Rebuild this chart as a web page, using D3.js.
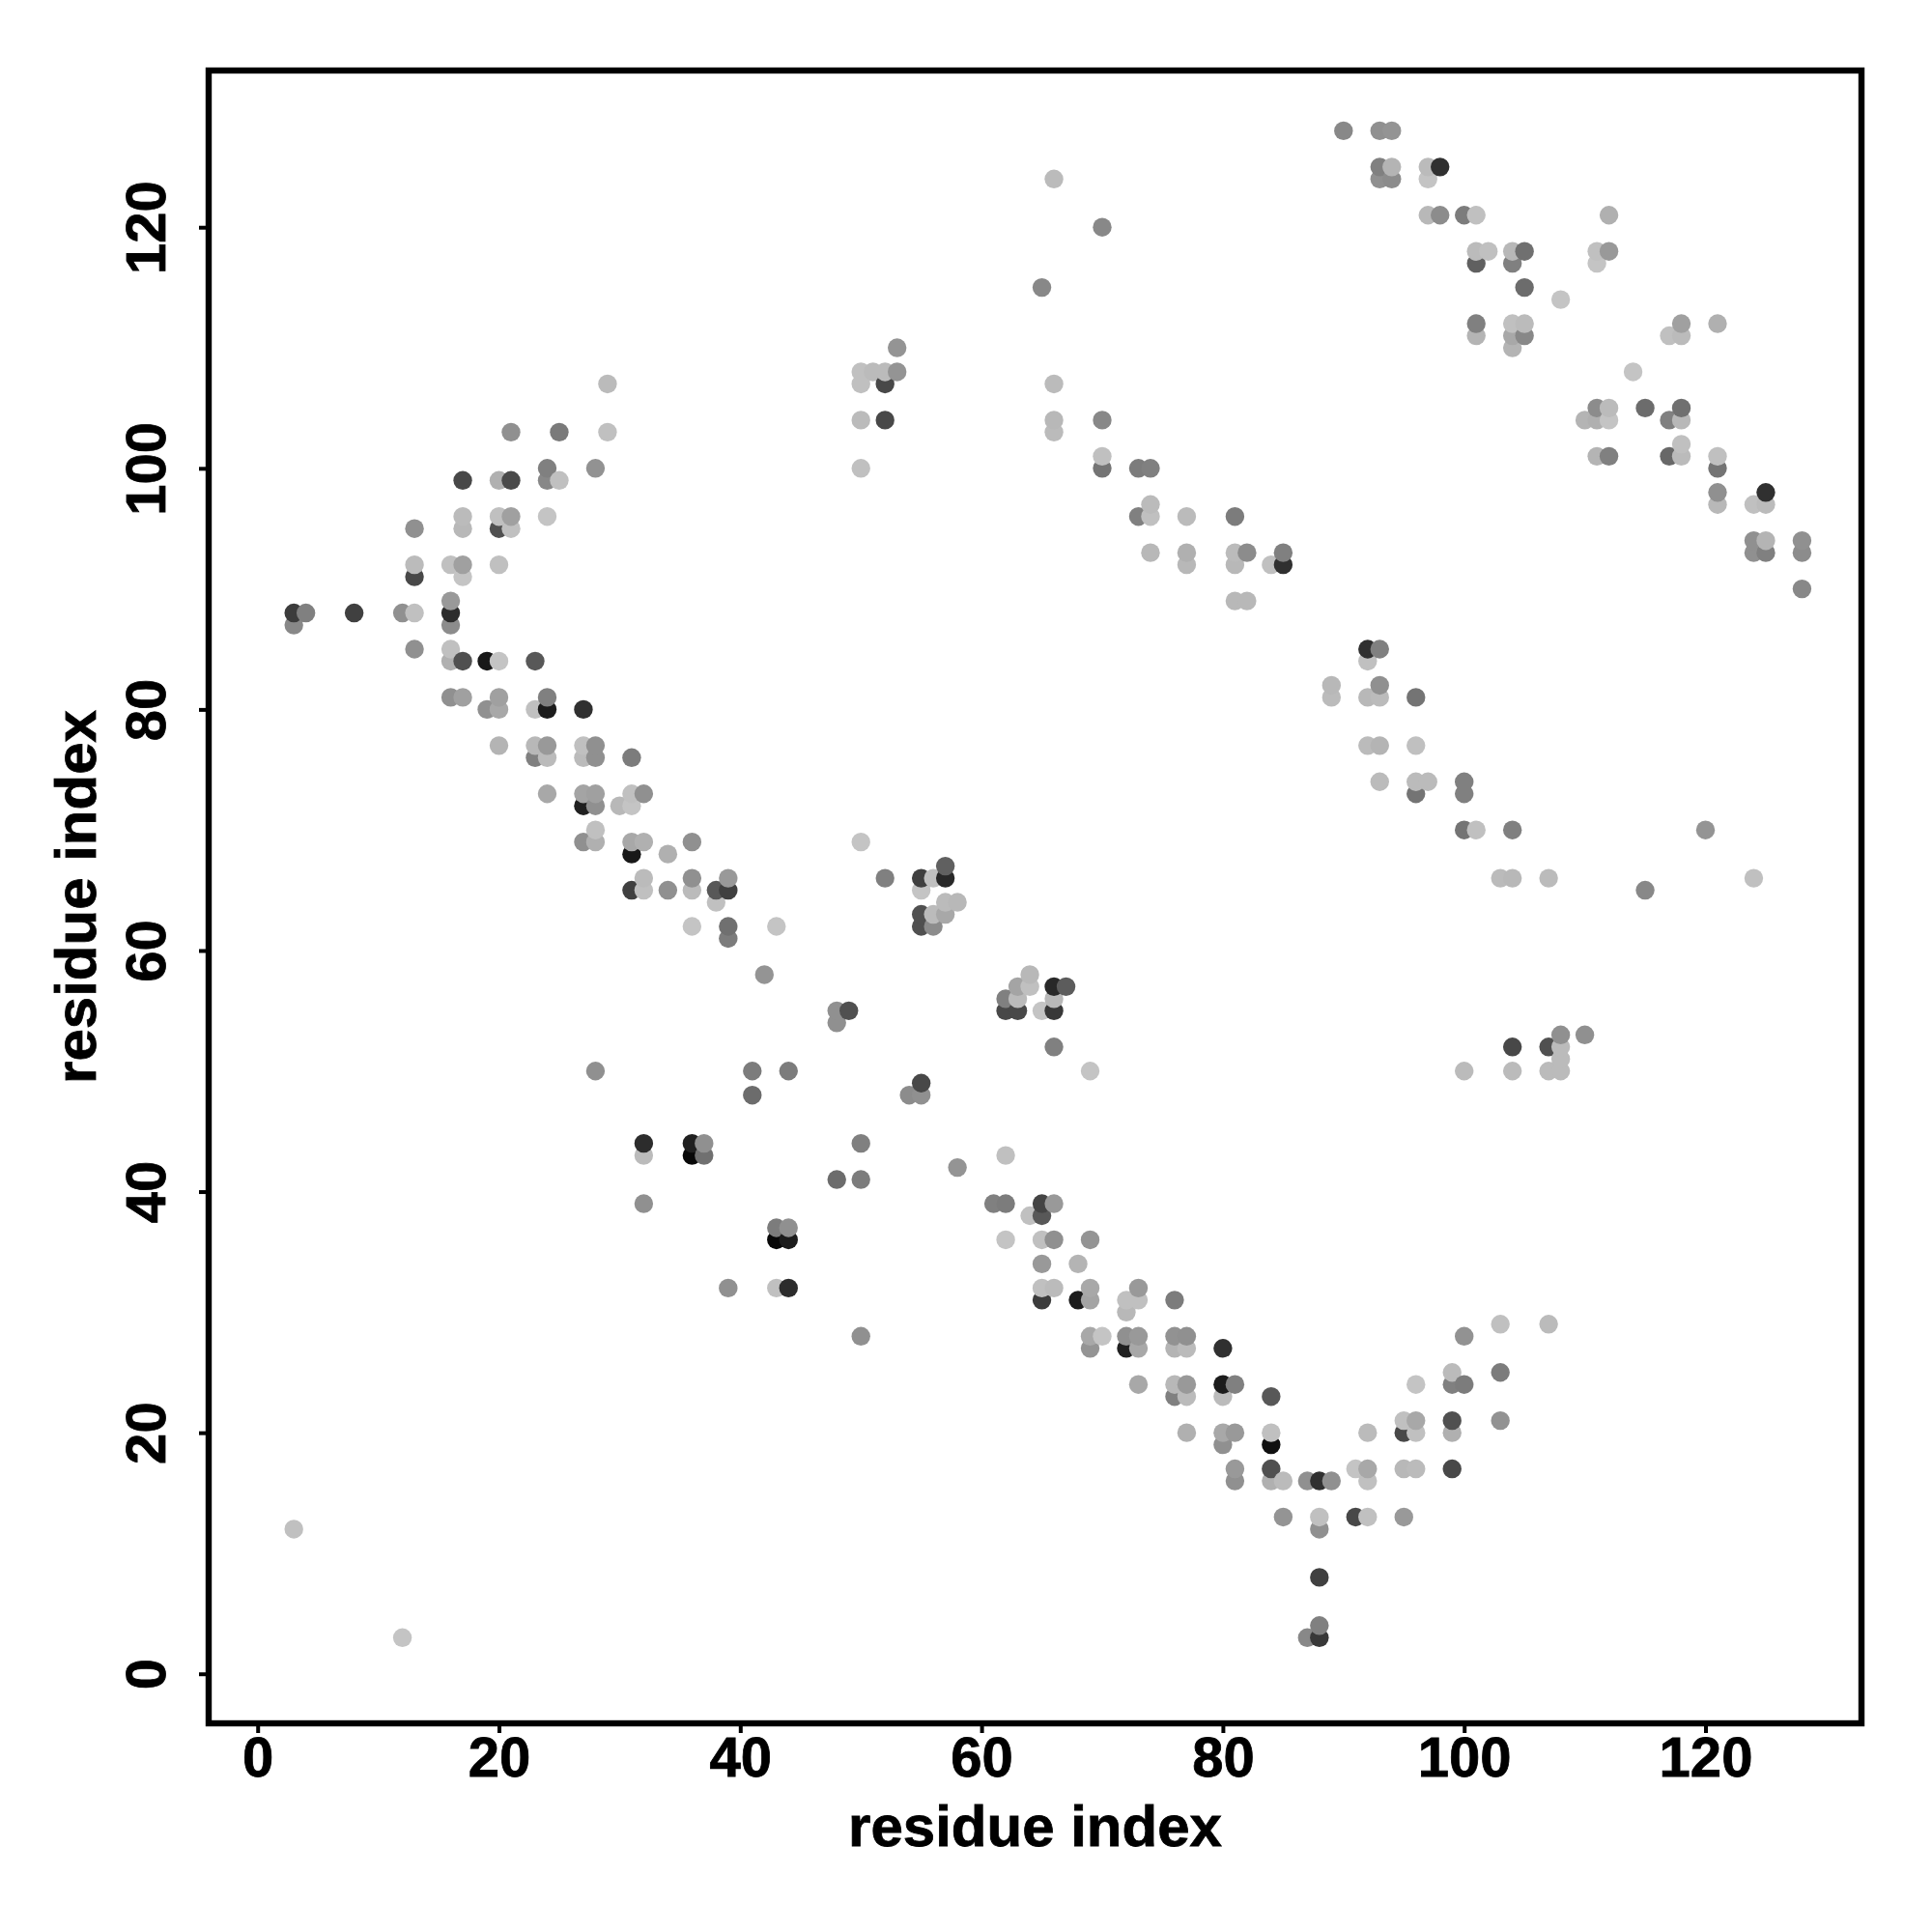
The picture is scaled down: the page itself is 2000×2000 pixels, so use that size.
<!DOCTYPE html>
<html>
<head>
<meta charset="utf-8">
<script src="https://cdn.jsdelivr.net/npm/d3@7"></script>
<style>html,body{margin:0;padding:0;background:#fff}svg{display:block}</style>
</head>
<body>
<script>
const axisTitleX = "residue index";
const axisTitleY = "residue index";
const tickValuesX = [0, 20, 40, 60, 80, 100, 120];
const tickValuesY = [0, 20, 40, 60, 80, 100, 120];

const residueJ = [
128,128,128, 125,125,125,125, 124,124,124,124, 121,121,121,121,121, 120,
118,118,118,118,118,118, 117,117,117, 115,115, 114,
112,112,112,112,112, 111,111,111,111,111, 110,110,
108,108,108,108,108, 107,107,107,107, 105,105,105,105,
104,104,104,104,104,104,104,104,104, 103,103,103,103, 102,
101,101,101,101,101,101, 100,100,100,100,100,100,100,
99,99,99,99,99, 98,98, 97,97,97,97,
96,96,96,96,96,96,96,96, 95,95,95,95, 94,94,94,
93,93,93,93,93,93,93,93, 92,92,92,92,92,92,92,92, 91,91, 90,
89,89,89, 88,88,88,88,88,88, 87,87, 85,85,85,85, 84,84,84,84,84,84,
82,82, 81,81,81,81,81,81,81,81, 80,80,80,80,80,
77,77,77,77,77,77,77,77, 76,76,76,76,76, 74,74,74,74,
73,73,73,73,73,73,73, 72,72,72,72, 70,70,70,70,70,
69,69,69,69,69,69, 68,68, 67,
66,66,66,66,66,66,66,66,66,66,66, 65,65,65,65,65,65,65,65,
64,64,64, 63,63,63, 62,62,62,62,62, 61,
58,58, 57,57,57,57, 56,56,56, 55,55,55,55,55,55, 54,
53,53, 52,52,52,52, 51, 50,50,50,50,50,50,50,50, 49, 48,48,48,
44,44,44,44, 43,43,43,43, 42, 41,41, 39,39,39,39,39, 38,38, 37,37,
36,36,36,36,36,36, 34,34, 32,32,32,32,32,32,32, 31,31,31,31,31,31, 30, 29,29,
28,28,28,28,28,28,28,28, 27,27,27,27,27,27, 25,25,
24,24,24,24,24,24,24,24, 23,23,23,23, 21,21,21,21,
20,20,20,20,20,20,20,20, 19,19, 17,17,17,17,17,17,17,
16,16,16,16,16,16,16, 13,13,13,13,13, 12,12, 8, 4, 3,3,3
];
const residueI = [
90,93,94, 93,94,97,98, 66,93,94,97, 97,98,100,101,112, 70,
101,102,104,105,111,112, 101,104,111, 65,105, 108,
101,104,105,118,121, 101,104,105,117,118, 53,104,
50,51,52,53,114, 29,50,52,66, 111,112,115,118,
50,52,66,70,110,111,112,117,118, 21,25,29,66, 118,
70,111,112,117,118,121, 24,28,50,70,73,74,121,
17,20,21,24,25, 121,125, 74,121,124,125,
17,20,21,24,73,74,77,81, 13,17,20,21, 124,125,128,
74,77,81,82,85,124,125,128, 13,16,17,20,77,81,84,85, 13,17, 128,
16,81,82, 3,4,8,12,13,16, 3,16, 13,16,92,93, 16,17,19,20,23,92,
89,93, 16,17,20,24,89,92,93,96, 19,20,23,24,27,
20,23,24,27,28,92,93,96, 23,24,27,28,31, 93,96,97,100,
24,27,28,31,32,96,100, 27,28,30,31, 28,100,101,104,120,
27,28,31,32,36,50, 31,34, 57,
32,36,39,52,55,56,57,103,104,107,124, 31,32,34,36,38,39,55,115,
38,57,58, 55,56,57, 36,39,43,55,56, 39,
42,64, 63,64,66,67, 62,63,66, 48,49,62,63,65,66, 48,
108,110, 66,104,107,108, 108, 28,41,44,69,100,104,107,108, 55, 41,54,55,
32,36,37,50, 32,36,37,62, 58, 48,50, 32,61,62,65,66, 64,65, 43,44,
43,44,62,65,66,69, 65,68, 39,43,44,65,66,69,73, 65,68,69,72,73,76, 72, 103,107,
50,69,70,72,73,76,77,100, 69,72,73,76,77,80, 99,103,
73,76,77,80,81,96,99,100, 76,77,80,84, 95,96,99,103,
77,80,81,84,92,95,96,99, 80,84, 81,84,91,92,95,96,99,
81,84,85,87,88,89,92, 85,88,91,92,95, 3,88, 88, 88, 12,87,88
];
const grayLevel = [
136,144,148, 128,180,187,48, 187,144,140,196, 184,140,124,192,176, 136,
187,192,184,112,192,153, 96,128,196, 136,108, 196,
128,192,187,160,176, 180,168,136,192,187, 148,180,
192,187,187,148,196, 187,192,72,187, 140,187,108,112,
187,72,184,136,180,176,196,128,184, 144,122,192,187, 192,
192,180,128,104,187,192, 128,146,192,116,124,128,116,
72,176,74,136,192, 144,48, 187,184,192,187,
187,192,160,196,128,192,187,124, 144,184,80,192, 144,180,144,
184,176,187,140,128,144,128,140, 187,192,160,192,184,184,192,48, 72,196, 136,
153,184,184, 60,128,64,144,192,44, 136,140, 144,192,48,128, 176,80,24,196,88,192,
184,144, 144,160,160,128,187,184,187,116, 144,168,192,28,48,
180,184,153,192,144,187,180,192, 128,187,187,144,124, 187,187,187,128,
168,164,160,192,144,116,128, 32,144,184,196, 192,116,192,128,148,
144,176,168,176,144,196, 24,176, 96,
187,144,153,128,64,192,40,187,184,187,192, 64,192,144,187,88,64,196,136,
192,187,184, 80,187,168, 196,112,196,80,140, 124,
148,184, 164,192,40,92, 128,187,184, 144,80,72,72,196,56, 144,
144,144, 128,72,80,187, 187, 144,124,124,196,187,187,187,187, 72, 108,140,144,
44,32,144,128, 187,8,112,192, 148, 108,124, 144,128,124,68,153, 192,88, 124,144,
8,28,196,192,144,148, 153,180, 144,192,44,192,187,168,153, 60,28,164,192,192,124, 184, 192,187,
144,168,196,144,153,146,144,146, 148,32,168,180,187,48, 187,124,
168,184,153,28,128,196,128,124, 128,187,187,88, 192,168,80,146,
176,168,153,192,187,72,192,176, 144,16, 153,80,196,168,184,187,72,
144,176,187,144,48,144,192, 148,192,72,192,153, 192,144, 64, 128, 196,136,56
];

const width = 2000, height = 2000;
const frame = {left: 216, right: 1927, top: 73, bottom: 1784};
const x = d3.scaleLinear().domain([-4.06, 132.93]).range([frame.left, frame.right]);
const y = d3.scaleLinear().domain([-4.11, 133.0]).range([frame.bottom, frame.top]);

const font = '"Liberation Sans", Arial, Helvetica, sans-serif';
const svg = d3.select("body").append("svg").attr("width", width).attr("height", height)
  .style("background", "#fff");

const points = d3.range(residueI.length).map(k => ({i: residueI[k], j: residueJ[k], g: grayLevel[k]}));
const ordered = d3.sort(points, (a, b) => d3.ascending(a.i, b.i) || d3.ascending(a.j, b.j));

svg.append("g").selectAll("circle").data(ordered).join("circle")
  .attr("cx", d => x(d.i))
  .attr("cy", d => y(d.j))
  .attr("r", 9.7)
  .attr("fill", d => d3.rgb(d.g, d.g, d.g).formatHex());

svg.append("rect")
  .attr("x", frame.left).attr("y", frame.top)
  .attr("width", frame.right - frame.left).attr("height", frame.bottom - frame.top)
  .attr("fill", "none").attr("stroke", "#000").attr("stroke-width", 6.4);

const gx = svg.append("g").attr("transform", `translate(0,${frame.bottom})`)
  .call(d3.axisBottom(x).tickValues(tickValuesX).tickSize(10).tickPadding(0).tickFormat(d3.format("d")));
const gy = svg.append("g").attr("transform", `translate(${frame.left},0)`)
  .call(d3.axisLeft(y).tickValues(tickValuesY).tickSize(10).tickPadding(0).tickFormat(d3.format("d")));
[gx, gy].forEach(g => {
  g.select(".domain").remove();
  g.selectAll(".tick line").attr("stroke", "#000").attr("stroke-width", 4);
  g.selectAll(".tick text").attr("fill", "#000").attr("font-family", font)
    .attr("font-weight", 700).attr("font-size", 58)
    .attr("stroke", "#000").attr("stroke-width", 0.8);
});
gx.selectAll(".tick text").attr("dy", null).attr("y", 55).attr("text-anchor", "middle");
gy.selectAll(".tick text").attr("dy", null).attr("x", null)
  .attr("transform", "translate(-45,0) rotate(-90)").attr("text-anchor", "middle");

svg.append("text").text(axisTitleX)
  .attr("x", (frame.left + frame.right) / 2).attr("y", 1911)
  .attr("text-anchor", "middle").attr("font-family", font).attr("font-weight", 700).attr("font-size", 60)
  .attr("stroke", "#000").attr("stroke-width", 0.8);
svg.append("text").text(axisTitleY)
  .attr("transform", `translate(99,${(frame.top + frame.bottom) / 2}) rotate(-90)`)
  .attr("text-anchor", "middle").attr("font-family", font).attr("font-weight", 700).attr("font-size", 60)
  .attr("stroke", "#000").attr("stroke-width", 0.8);
</script>
</body>
</html>
